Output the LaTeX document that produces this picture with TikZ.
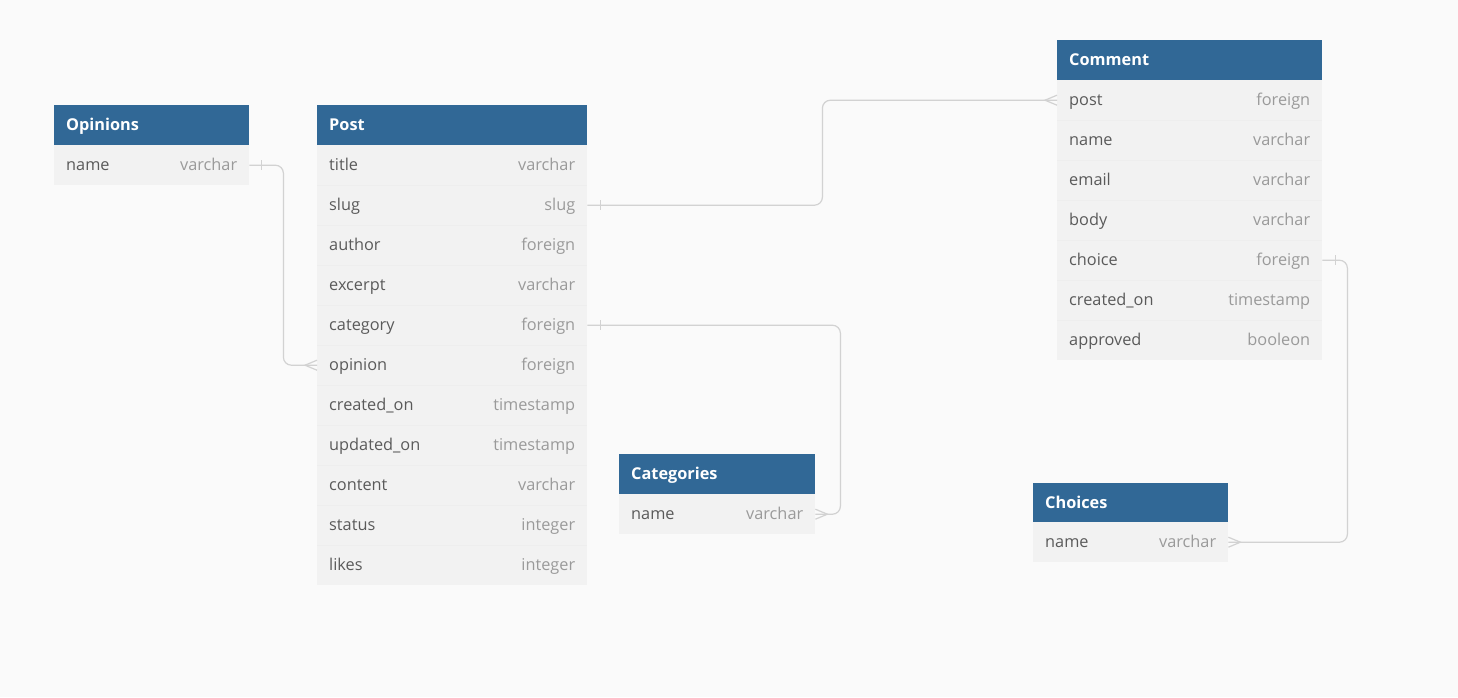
\documentclass[tikz,border=0pt]{standalone}
\usepackage{fontspec}
\setmainfont{Open Sans}
\definecolor{bg}{HTML}{FAFAFA}
\definecolor{hdrblue}{HTML}{316896}
\definecolor{rowfill}{HTML}{F2F2F2}
\definecolor{sepline}{HTML}{EEEEEE}
\definecolor{namegray}{HTML}{5A5A5A}
\definecolor{typegray}{HTML}{9A9A9A}
\definecolor{linkgray}{HTML}{D2D2D2}
\begin{document}
\begin{tikzpicture}[x=1pt,y=-1pt,
  tbl/.style={anchor=north west, rectangle, inner xsep=12pt, inner ysep=0pt,
    minimum height=40pt, text height=12.6pt, text depth=3pt,
    font=\fontsize{16.3}{19}\selectfont},
  hdr/.style={tbl, fill=hdrblue, text=white, font=\bfseries\fontsize{16.3}{19}\selectfont},
  row/.style={tbl, fill=rowfill, text=namegray},
  sep/.style={draw=sepline, line width=0.8pt},
  link/.style={draw=linkgray, line width=1.2pt, rounded corners=8pt},
  endmark/.style={draw=linkgray, line width=1.2pt}
]
\fill[bg] (0,0) rectangle (1458,697);
\useasboundingbox (0,0) rectangle (1458,697);

% ---------- Opinions ----------
\node[hdr, text width=171pt] (op-h) at (54,105) {Opinions};
\node[row, text width=171pt] (op-name) at (54,145) {name\hfill\textcolor{typegray}{varchar}};

% ---------- Post ----------
\node[hdr, text width=246pt] (post-h) at (317,105) {Post};
\node[row, text width=246pt] (post-title) at (317,145) {title\hfill\textcolor{typegray}{varchar}};
\node[row, text width=246pt] (post-slug) at (317,185) {slug\hfill\textcolor{typegray}{slug}};
\node[row, text width=246pt] (post-author) at (317,225) {author\hfill\textcolor{typegray}{foreign}};
\node[row, text width=246pt] (post-excerpt) at (317,265) {excerpt\hfill\textcolor{typegray}{varchar}};
\node[row, text width=246pt] (post-category) at (317,305) {category\hfill\textcolor{typegray}{foreign}};
\node[row, text width=246pt] (post-opinion) at (317,345) {opinion\hfill\textcolor{typegray}{foreign}};
\node[row, text width=246pt] (post-created) at (317,385) {created\_on\hfill\textcolor{typegray}{timestamp}};
\node[row, text width=246pt] (post-updated) at (317,425) {updated\_on\hfill\textcolor{typegray}{timestamp}};
\node[row, text width=246pt] (post-content) at (317,465) {content\hfill\textcolor{typegray}{varchar}};
\node[row, text width=246pt] (post-status) at (317,505) {status\hfill\textcolor{typegray}{integer}};
\node[row, text width=246pt] (post-likes) at (317,545) {likes\hfill\textcolor{typegray}{integer}};
\foreach \r in {title,slug,author,excerpt,category,opinion,created,updated,content,status}
  \draw[sep] (post-\r.south west) -- (post-\r.south east);

% ---------- Comment ----------
\node[hdr, text width=241pt] (com-h) at (1057,40) {Comment};
\node[row, text width=241pt] (com-post) at (1057,80) {post\hfill\textcolor{typegray}{foreign}};
\node[row, text width=241pt] (com-name) at (1057,120) {name\hfill\textcolor{typegray}{varchar}};
\node[row, text width=241pt] (com-email) at (1057,160) {email\hfill\textcolor{typegray}{varchar}};
\node[row, text width=241pt] (com-body) at (1057,200) {body\hfill\textcolor{typegray}{varchar}};
\node[row, text width=241pt] (com-choice) at (1057,240) {choice\hfill\textcolor{typegray}{foreign}};
\node[row, text width=241pt] (com-created) at (1057,280) {created\_on\hfill\textcolor{typegray}{timestamp}};
\node[row, text width=241pt] (com-approved) at (1057,320) {approved\hfill\textcolor{typegray}{booleon}};
\foreach \r in {post,name,email,body,choice,created}
  \draw[sep] (com-\r.south west) -- (com-\r.south east);

% ---------- Categories ----------
\node[hdr, text width=172pt] (cat-h) at (619,454) {Categories};
\node[row, text width=172pt] (cat-name) at (619,494) {name\hfill\textcolor{typegray}{varchar}};

% ---------- Choices ----------
\node[hdr, text width=171pt] (cho-h) at (1033,483) {Choices};
\node[row, text width=171pt] (cho-name) at (1033,522) {name\hfill\textcolor{typegray}{varchar}};

% ---------- Connectors ----------
% Opinions.name -> Post.opinion
\draw[link] (op-name.east) -- ++(34,0) |- (post-opinion.west);
\draw[endmark] (op-name.east) ++(12,-5) -- ++(0,10);
\draw[endmark] (post-opinion.west) ++(0,-5) -- ++(-12,5) -- ++(12,5);

% Post.slug -> Comment.post
\draw[link] (post-slug.east) -- ++(235,0) |- (com-post.west);
\draw[endmark] (post-slug.east) ++(13,-5) -- ++(0,10);
\draw[endmark] (com-post.west) ++(0,-5) -- ++(-12,5) -- ++(12,5);

% Post.category -> Categories.name
\draw[link] (post-category.east) -- ++(253,0) |- (cat-name.east);
\draw[endmark] (post-category.east) ++(13,-5) -- ++(0,10);
\draw[endmark] (cat-name.east) ++(0,-5) -- ++(12,5) -- ++(-12,5);

% Comment.choice -> Choices.name
\draw[link] (com-choice.east) -- ++(25,0) |- (cho-name.east);
\draw[endmark] (com-choice.east) ++(13,-5) -- ++(0,10);
\draw[endmark] (cho-name.east) ++(0,-5) -- ++(12,5) -- ++(-12,5);
\end{tikzpicture}
\end{document}
